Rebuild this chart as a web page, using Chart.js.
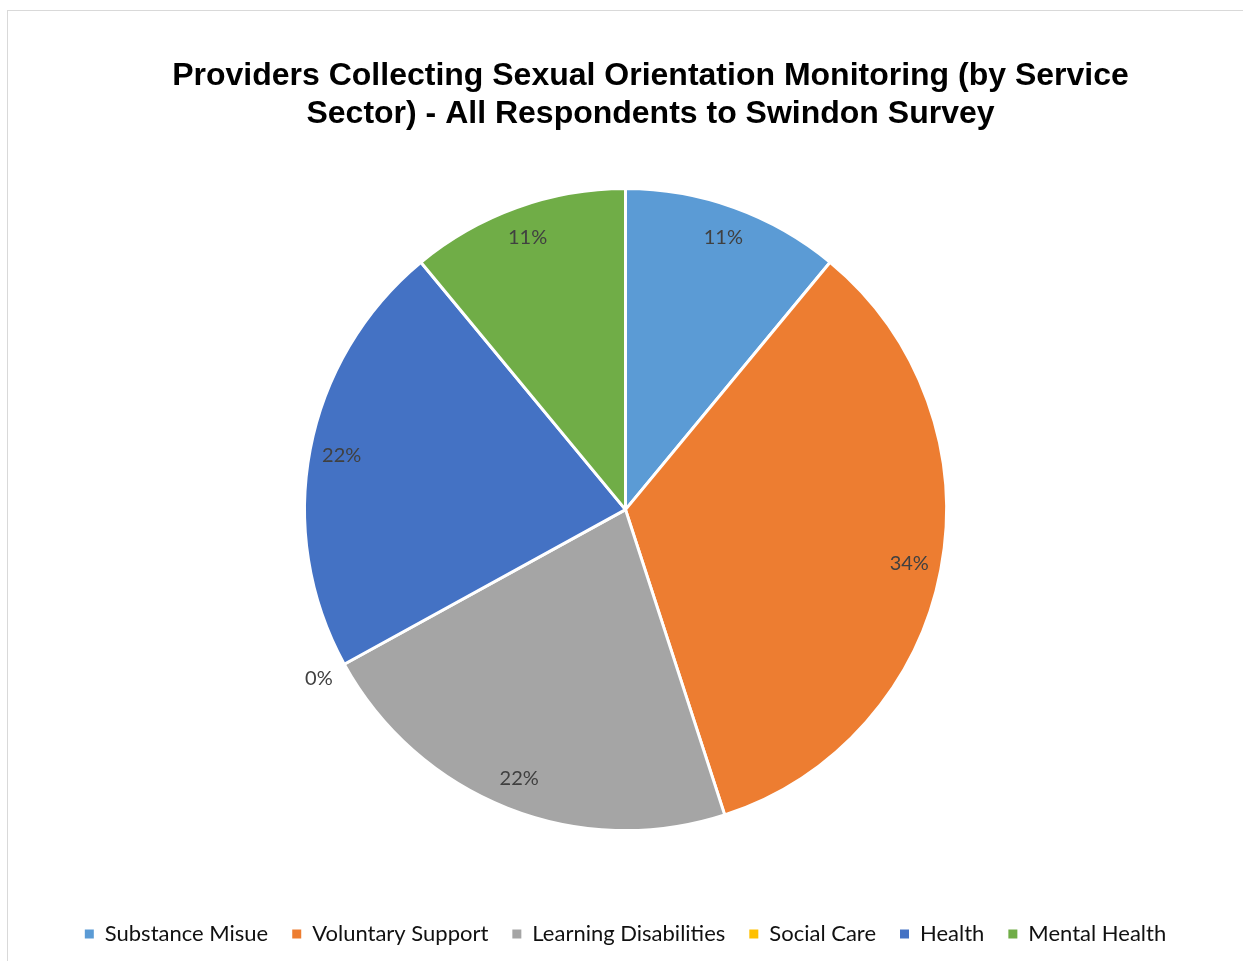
<!DOCTYPE html>
<html>
<head>
<meta charset="utf-8">
<title>Sexual Orientation Monitoring by Service Sector</title>
<script src="https://cdn.jsdelivr.net/npm/chart.js@4"></script>
<style>
  html, body { margin: 0; padding: 0; background: #fff; overflow: hidden; }
  #frame {
    position: absolute; left: 7px; top: 10px;
    width: 1235px; height: 960px;
    border: 1px solid #d9d9d9; border-bottom: none;
  }
  #myChart { display: block; }
</style>
</head>
<body>
<div id="frame"><canvas id="myChart" width="1235" height="950"></canvas></div>
<script>
  // sectors and the share of providers in each (percent)
  var sectors = ['Substance Misue', 'Voluntary Support', 'Learning Disabilities', 'Social Care', 'Health', 'Mental Health'];
  var shares = [11, 34, 22, 0, 22, 11];
  var sectorColours = ['#5B9BD5', '#ED7D31', '#A5A5A5', '#FFC000', '#4472C4', '#70AD47'];
  var chartTitle = ['Providers Collecting Sexual Orientation Monitoring (by Service', 'Sector) - All Respondents to Swindon Survey'];

  // percentage labels: inside each slice near the rim, empty slices just outside
  var sliceLabels = {
    id: 'sliceLabels',
    afterDatasetsDraw(chart) {
      const ctx = chart.ctx;
      const arcs = chart.getDatasetMeta(0).data;
      ctx.save();
      ctx.font = '20px Lato, "Noto Sans", sans-serif';
      ctx.fillStyle = '#404040';
      ctx.textAlign = 'center';
      ctx.textBaseline = 'middle';
      arcs.forEach(function (arc, i) {
        const p = arc.getProps(['x', 'y', 'startAngle', 'endAngle', 'outerRadius'], true);
        const mid = (p.startAngle + p.endAngle) / 2;
        const r = shares[i] === 0 ? p.outerRadius * 1.09 : p.outerRadius * 0.9;
        ctx.fillText(shares[i] + '%', p.x + Math.cos(mid) * r, p.y + Math.sin(mid) * r);
      });
      ctx.restore();
    }
  };

  // the title sits a little right of the pie's centre line
  var titleNudge = {
    id: 'titleNudge',
    afterLayout(chart) {
      if (chart.titleBlock) {
        chart.titleBlock.left += 25;
        chart.titleBlock.right += 25;
      }
    }
  };

  window.addEventListener('load', buildChart);

  function buildChart() {
    const ctx = document.getElementById('myChart').getContext('2d');
    new Chart(ctx, {
      type: 'pie',
      data: {
        labels: sectors,
        datasets: [{
          data: shares,
          backgroundColor: sectorColours,
          borderColor: '#ffffff',
          borderWidth: 3
        }]
      },
      plugins: [sliceLabels, titleNudge],
      options: {
        responsive: false,
        animation: false,
        radius: 321,
        layout: { padding: { top: 0, bottom: 6, left: 0, right: 0 } },
        plugins: {
          tooltip: { enabled: false },
          title: {
            display: true,
            text: chartTitle,
            color: '#000',
            font: { family: '"Liberation Sans", Arial, sans-serif', size: 32, weight: 'bold', lineHeight: 1.16 },
            padding: { top: 47, bottom: -12 }
          },
          legend: {
            position: 'bottom',
            labels: {
              color: '#111',
              font: { family: 'Lato, "Noto Sans", sans-serif', size: 22 },
              boxWidth: 9,
              boxHeight: 9,
              padding: 24,
              // plain filled squares, without the slice outline
              generateLabels(chart) {
                const items = Chart.overrides.pie.plugins.legend.labels.generateLabels(chart);
                items.forEach(function (item) { item.lineWidth = 0; });
                return items;
              }
            }
          }
        }
      }
    });
  }
</script>
</body>
</html>
